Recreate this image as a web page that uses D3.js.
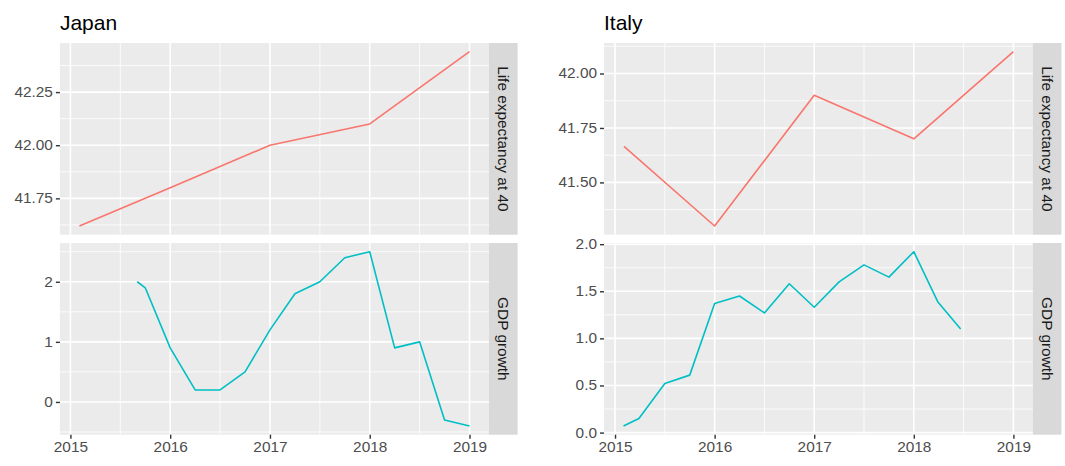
<!DOCTYPE html>
<html>
<head>
<meta charset="utf-8">
<script src="https://cdn.jsdelivr.net/npm/d3@7"></script>
<style>
  html, body { margin: 0; padding: 0; background: #fff; }
  svg { display: block; }
  text { font-family: "Liberation Sans", Arial, Helvetica, sans-serif; }
</style>
</head>
<body>
<svg id="chart" width="1065" height="466"></svg>
<script>
// ---------------- data ----------------
const countries = ["Japan", "Italy"];
const facets = ["Life expectancy at 40", "GDP growth"];

const japanLifeX = [2015.09, 2016, 2017, 2018, 2019];
const japanLifeY = [41.62, 41.80, 42.00, 42.10, 42.44];

const japanGdpX = [2015.67, 2015.75, 2016, 2016.25, 2016.5, 2016.75, 2017, 2017.25, 2017.5, 2017.75, 2018, 2018.25, 2018.5, 2018.75, 2019];
const japanGdpY = [2.0, 1.9, 0.9, 0.2, 0.2, 0.5, 1.2, 1.8, 2.0, 2.4, 2.5, 0.9, 1.0, -0.3, -0.4];

const italyLifeX = [2015.09, 2016, 2017, 2018, 2019];
const italyLifeY = [41.665, 41.30, 41.90, 41.70, 42.10];

const italyGdpX = [2015.085, 2015.24, 2015.5, 2015.75, 2016, 2016.25, 2016.5, 2016.75, 2017, 2017.25, 2017.5, 2017.75, 2018, 2018.24, 2018.47];
const italyGdpY = [0.07, 0.15, 0.52, 0.61, 1.37, 1.45, 1.27, 1.58, 1.33, 1.60, 1.78, 1.65, 1.92, 1.39, 1.10];

const xTicks = [2015, 2016, 2017, 2018, 2019];
const xTickLabels = ["2015", "2016", "2017", "2018", "2019"];
const japanLifeTicks = [41.75, 42.00, 42.25];
const japanLifeTickLabels = ["41.75", "42.00", "42.25"];
const japanGdpTicks = [0, 1, 2];
const japanGdpTickLabels = ["0", "1", "2"];
const italyLifeTicks = [41.50, 41.75, 42.00];
const italyLifeTickLabels = ["41.50", "41.75", "42.00"];
const italyGdpTicks = [0.0, 0.5, 1.0, 1.5, 2.0];
const italyGdpTickLabels = ["0.0", "0.5", "1.0", "1.5", "2.0"];

const seriesColors = ["#F8766D", "#00BFC4"];

// ---------------- layout ----------------
const svg = d3.select("#chart");
const panelTop = [43, 243];
const panelBottom = [234.7, 434.7];
const TXT_SCALE = 1.1;
const plots = [
  { title: countries[0], left: 59.9, right: 489, stripW: 28.6,
    series: [ {x: japanLifeX, y: japanLifeY, ticks: japanLifeTicks, labels: japanLifeTickLabels},
              {x: japanGdpX, y: japanGdpY, ticks: japanGdpTicks, labels: japanGdpTickLabels} ] },
  { title: countries[1], left: 604.0, right: 1032.9, stripW: 28.6,
    series: [ {x: italyLifeX, y: italyLifeY, ticks: italyLifeTicks, labels: italyLifeTickLabels},
              {x: italyGdpX, y: italyGdpY, ticks: italyGdpTicks, labels: italyGdpTickLabels} ] }
];

function expand(ext, f) {
  const r = ext[1] - ext[0];
  return [ext[0] - r * f, ext[1] + r * f];
}
function minorBetween(ticks, domain) {
  const step = ticks[1] - ticks[0];
  const out = [];
  for (let v = ticks[0] - step / 2; v <= domain[1]; v += step) {
    if (v >= domain[0]) out.push(v);
  }
  return out;
}

plots.forEach(p => {
  const g = svg.append("g");
  const allX = p.series[0].x.concat(p.series[1].x);
  const xDom = expand(d3.extent(allX), 0.05);
  const x = d3.scaleLinear().domain(xDom).range([p.left, p.right]);
  const xMinor = minorBetween(xTicks, xDom);

  // title
  g.append("text")
    .attr("x", p.left).attr("y", 29.5)
    .attr("font-size", 21).attr("fill", "#000")
    .text(p.title);

  p.series.forEach((s, i) => {
    const top = panelTop[i], bot = panelBottom[i];
    const yDom = expand(d3.extent(s.y), 0.05);
    const y = d3.scaleLinear().domain(yDom).range([bot, top]);
    const yMinor = minorBetween(s.ticks, yDom);

    g.append("rect").attr("x", p.left).attr("y", top)
      .attr("width", p.right - p.left).attr("height", bot - top)
      .attr("fill", "#EBEBEB");

    g.append("g").selectAll("line").data(yMinor).join("line")
      .attr("x1", p.left).attr("x2", p.right)
      .attr("y1", d => y(d)).attr("y2", d => y(d))
      .attr("stroke", "#fff").attr("stroke-width", 0.8);
    g.append("g").selectAll("line").data(xMinor).join("line")
      .attr("y1", top).attr("y2", bot)
      .attr("x1", d => x(d)).attr("x2", d => x(d))
      .attr("stroke", "#fff").attr("stroke-width", 0.8);
    g.append("g").selectAll("line").data(s.ticks).join("line")
      .attr("x1", p.left).attr("x2", p.right)
      .attr("y1", d => y(d)).attr("y2", d => y(d))
      .attr("stroke", "#fff").attr("stroke-width", 1.6);
    g.append("g").selectAll("line").data(xTicks).join("line")
      .attr("y1", top).attr("y2", bot)
      .attr("x1", d => x(d)).attr("x2", d => x(d))
      .attr("stroke", "#fff").attr("stroke-width", 1.6);

    const pts = s.x.map((xv, k) => [xv, s.y[k]]);
    g.append("path").datum(pts)
      .attr("d", d3.line().x(d => x(d[0])).y(d => y(d[1])))
      .attr("fill", "none").attr("stroke", seriesColors[i])
      .attr("stroke-width", 1.6).attr("stroke-linejoin", "round");

    const ya = g.append("g").attr("transform", `translate(${p.left},0)`)
      .call(d3.axisLeft(y).tickValues(s.ticks)
        .tickFormat((d, k) => s.labels[k]).tickSize(4).tickPadding(3));
    ya.select(".domain").remove();
    ya.selectAll(".tick line").attr("stroke", "#333333").attr("stroke-width", 1.4);
    ya.selectAll(".tick text").attr("fill", "#4D4D4D")
      .attr("font-size", 14).attr("font-family", "Liberation Sans, Arial, sans-serif")
      .attr("x", -7 / TXT_SCALE)
      .attr("transform", `scale(${TXT_SCALE},1)`);

    g.append("rect").attr("x", p.right).attr("y", top)
      .attr("width", p.stripW).attr("height", bot - top)
      .attr("fill", "#D9D9D9");
    g.append("text")
      .attr("transform", `translate(${p.right + p.stripW / 2},${(top + bot) / 2}) rotate(90) scale(${TXT_SCALE},1)`)
      .attr("text-anchor", "middle").attr("dy", "0.35em")
      .attr("font-size", 14).attr("fill", "#1A1A1A")
      .text(facets[i]);
  });

  const xa = g.append("g").attr("transform", `translate(0,${panelBottom[1]})`)
    .call(d3.axisBottom(x).tickValues(xTicks)
      .tickFormat((d, k) => xTickLabels[k]).tickSize(4).tickPadding(3));
  xa.select(".domain").remove();
  xa.selectAll(".tick line").attr("stroke", "#333333").attr("stroke-width", 1.4);
  xa.selectAll(".tick text").attr("fill", "#4D4D4D")
    .attr("font-size", 14).attr("font-family", "Liberation Sans, Arial, sans-serif")
    .attr("transform", `scale(${TXT_SCALE},1)`);
});
</script>
</body>
</html>
